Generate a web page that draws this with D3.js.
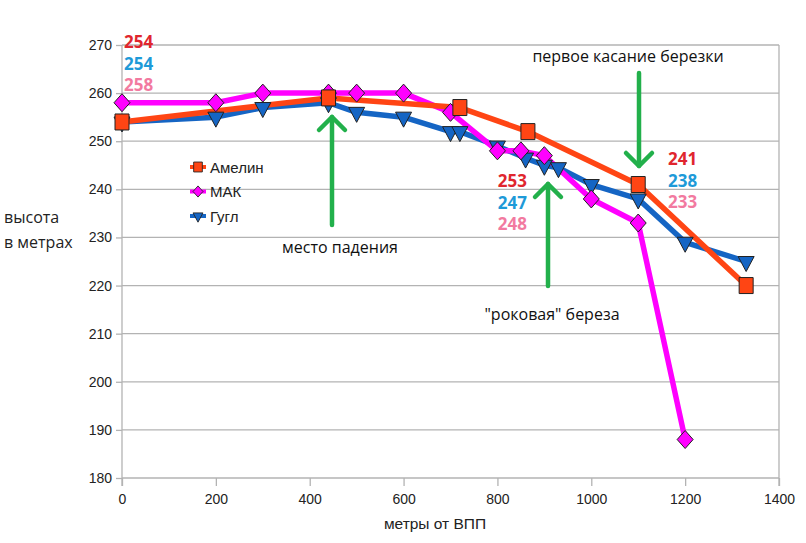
<!DOCTYPE html>
<html><head><meta charset="utf-8">
<script src="https://cdn.jsdelivr.net/npm/d3@7"></script>
<style>body{margin:0;background:#fff}svg{display:block}</style>
</head><body>
<svg id="c" width="806" height="543"></svg>
<script>
const seriesNames = ["Амелин", "МАК", "Гугл"];
const amelinX = [0, 440, 720, 865, 1100, 1330];
const amelinY = [254, 259, 257, 252, 241, 220];
const makX = [0, 200, 300, 440, 500, 600, 700, 800, 850, 900, 1000, 1100, 1200];
const makY = [258, 258, 260, 260, 260, 260, 256, 248, 248, 247, 238, 233, 188];
const guglX = [0, 200, 300, 440, 500, 600, 700, 720, 800, 860, 900, 930, 1000, 1100, 1200, 1330];
const guglY = [254, 255, 257, 258, 256, 255, 252, 252, 249, 246.5, 245, 244.5, 241, 238, 229, 225];
const xTicks = [0, 200, 400, 600, 800, 1000, 1200, 1400];
const yTicks = [180, 190, 200, 210, 220, 230, 240, 250, 260, 270];
const xTitle = "метры от ВПП";
const yTitle = ["высота", "в метрах"];
const valueLabelsStart = ["254", "254", "258"];
const valueLabelsMid = ["253", "247", "248"];
const valueLabelsEnd = ["241", "238", "233"];
const notes = ["первое касание березки", "место падения", "\"роковая\" береза"];

const svg = d3.select("#c");
const x = d3.scaleLinear().domain([0, 1400]).range([122, 779]);
const y = d3.scaleLinear().domain([180, 270]).range([478, 45]);
const grid = "#b3b3b3";
const tickFont = "'Liberation Sans', Arial, sans-serif";
const noteFont = "'Open Sans', 'Noto Sans', sans-serif";

// gridlines
svg.append("g").selectAll("line").data(yTicks).join("line")
  .attr("x1", x(0)).attr("x2", x(1400)).attr("y1", d => y(d)).attr("y2", d => y(d))
  .attr("stroke", grid).attr("stroke-width", 1.3);
// right border
svg.append("line").attr("x1", x(1400)).attr("x2", x(1400)).attr("y1", y(270)).attr("y2", y(180) + 8)
  .attr("stroke", grid).attr("stroke-width", 1.3);

// axes
const yAxis = d3.axisLeft(y).tickValues(yTicks).tickSize(6).tickPadding(4).tickFormat(d3.format("d"));
const gy = svg.append("g").attr("transform", `translate(${x(0)},0)`).call(yAxis);
gy.select(".domain").remove();
gy.append("line").attr("x1", 0).attr("x2", 0).attr("y1", y(270)).attr("y2", y(180) + 8);
const xAxis = d3.axisBottom(x).tickValues(xTicks).tickSize(8).tickPadding(6).tickFormat(d3.format("d"));
const gx = svg.append("g").attr("transform", `translate(0,${y(180)})`).call(xAxis);
gx.select(".domain").remove();
[gx, gy].forEach(g => {
  g.selectAll("line").attr("stroke", grid).attr("stroke-width", 1.3);
  g.selectAll("text").attr("font-family", tickFont).attr("font-size", 14).attr("fill", "#222");
});
gx.selectAll("text").attr("dy", "0.85em");

// axis titles
svg.append("text").attr("x", 435).attr("y", 529).attr("text-anchor", "middle")
  .attr("font-family", tickFont).attr("font-size", 15.5).attr("fill", "#222").text(xTitle);
yTitle.forEach((t, i) => svg.append("text").attr("x", 4).attr("y", 223 + i * 25)
  .attr("font-family", noteFont).attr("font-size", 16).attr("fill", "#222").text(t));

// series
const series = [
  {name: seriesNames[0], xs: amelinX, ys: amelinY, color: "#ff4514", marker: "square"},
  {name: seriesNames[2], xs: guglX, ys: guglY, color: "#1565c4", marker: "tri"},
  {name: seriesNames[1], xs: makX, ys: makY, color: "#ff00ff", marker: "diamond"}
];
const drawOrder = [series[1], series[2], series[0]];
const line = d3.line().x(d => x(d[0])).y(d => y(d[1]));
function markerPath(type) {
  if (type === "square") return "M-7,-8H7V8H-7Z";
  if (type === "diamond") return "M0,-9L8,0L0,9L-8,0Z";
  return "M-8,-5H8L0,10Z";
}
drawOrder.forEach(s => {
  const pts = s.xs.map((v, i) => [v, s.ys[i]]);
  svg.append("path").datum(pts).attr("d", line).attr("fill", "none")
    .attr("stroke", s.color).attr("stroke-width", 5.5).attr("stroke-linejoin", "round");
});
drawOrder.forEach(s => {
  const pts = s.xs.map((v, i) => [v, s.ys[i]]);
  svg.append("g").selectAll("path").data(pts).join("path")
    .attr("transform", d => `translate(${x(d[0])},${y(d[1])})`)
    .attr("d", markerPath(s.marker)).attr("fill", s.color)
    .attr("stroke", "#222").attr("stroke-width", 1);
});

// legend
const legendOrder = [series[0], series[2], series[1]];
legendOrder.forEach((s, i) => {
  const ly = 167 + i * 24.5;
  const g = svg.append("g").attr("transform", `translate(198,${ly})`);
  g.append("line").attr("x1", -8).attr("x2", 8).attr("stroke", s.color).attr("stroke-width", 4);
  g.append("path").attr("d", markerPath(s.marker)).attr("transform", "scale(0.62)")
    .attr("fill", s.color).attr("stroke", "#222").attr("stroke-width", 1.4);
  g.append("text").attr("x", 12).attr("y", 5.5).attr("font-family", tickFont)
    .attr("font-size", 15).attr("fill", "#222").text(s.name);
});

// value labels
const labelColors = ["#e0262e", "#1e9ad8", "#f27aa0"];
function valueBlock(labels, x0, y0, anchor) {
  labels.forEach((t, i) => svg.append("text").attr("x", x0).attr("y", y0 + i * 21.5)
    .attr("text-anchor", anchor).attr("font-family", noteFont).attr("font-weight", "bold")
    .attr("font-size", 17).attr("fill", labelColors[i]).text(t));
}
valueBlock(valueLabelsStart, 124, 48, "start");
valueBlock(valueLabelsMid, 527, 187, "end");
valueBlock(valueLabelsEnd, 668, 165, "start");

// annotations
const noteSize = 16;
svg.append("text").attr("x", 628).attr("y", 62).attr("text-anchor", "middle")
  .attr("font-family", noteFont).attr("font-size", noteSize).attr("fill", "#111").text(notes[0]);
svg.append("text").attr("x", 340).attr("y", 253).attr("text-anchor", "middle")
  .attr("font-family", noteFont).attr("font-size", noteSize).attr("fill", "#111").text(notes[1]);
svg.append("text").attr("x", 552).attr("y", 320).attr("text-anchor", "middle")
  .attr("font-family", noteFont).attr("font-size", noteSize).attr("fill", "#111").text(notes[2]);

// arrows
const green = "#22b04b";
function arrow(xa, yFrom, yTo) {
  const dir = yTo < yFrom ? 1 : -1;
  const g = svg.append("g").attr("stroke", green).attr("stroke-width", 4.5).attr("fill", "none")
    .attr("stroke-linecap", "round").attr("stroke-linejoin", "round");
  g.append("line").attr("x1", xa).attr("x2", xa).attr("y1", yFrom).attr("y2", yTo);
  g.append("path").attr("d", `M${xa - 13},${yTo + dir * 13}L${xa},${yTo}L${xa + 13},${yTo + dir * 13}`);
}
arrow(332, 225, 117);
arrow(548, 286, 184);
arrow(639, 73, 166);
</script>
</body></html>
